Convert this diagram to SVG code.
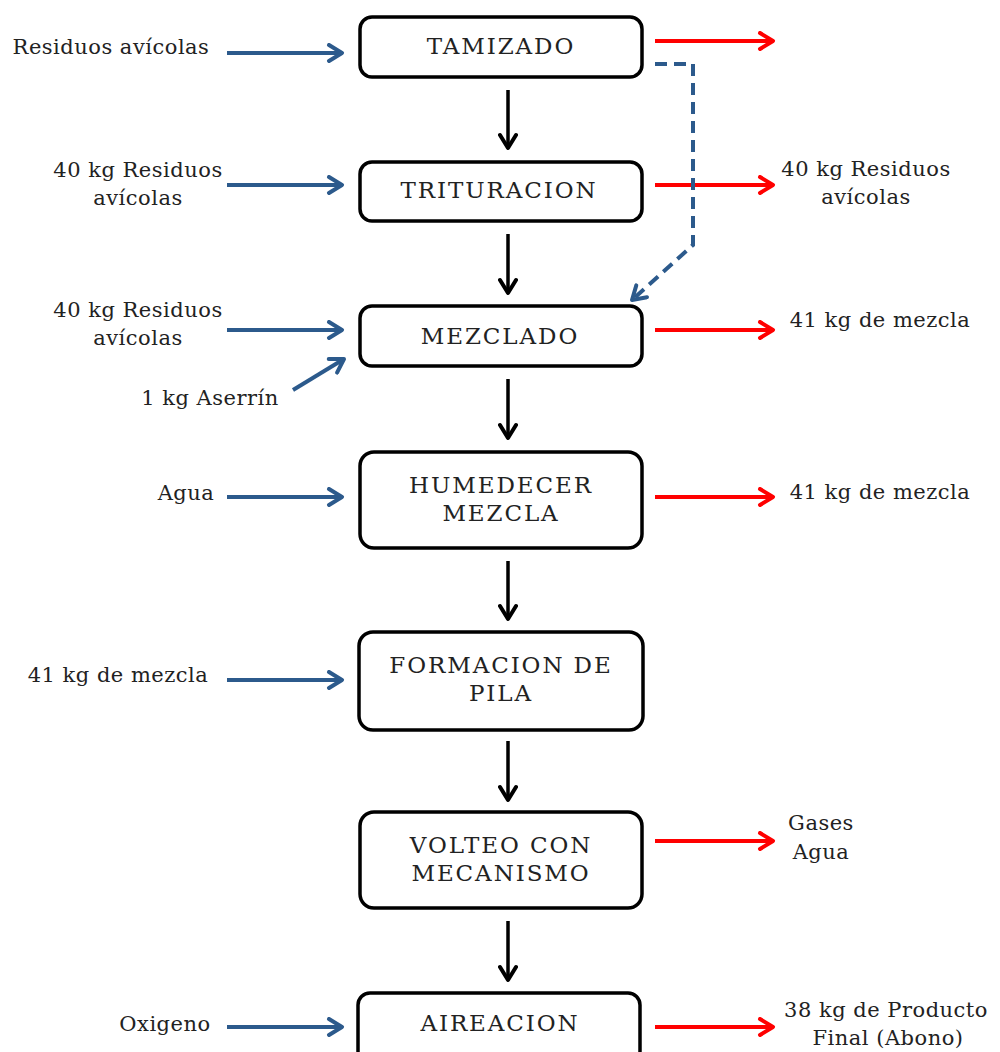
<svg xmlns="http://www.w3.org/2000/svg" width="1000" height="1052" viewBox="0 0 1000 1052">
<style>
.box{fill:#fff;stroke:#000;stroke-width:3.5}
.t{font-family:"DejaVu Serif","Liberation Serif",serif;font-size:21px;fill:#222;letter-spacing:0.5px;text-anchor:middle}
.b{font-family:"DejaVu Serif","Liberation Serif",serif;font-size:23px;fill:#222;letter-spacing:1.9px;text-anchor:middle}
.blue{stroke:#2c5a8c;stroke-width:4;fill:none}
.red{stroke:#ff0000;stroke-width:4;fill:none}
.blk{stroke:#000;stroke-width:3.5;fill:none}
.dash{stroke:#2c5a8c;stroke-width:4;fill:none;stroke-dasharray:12 7}
</style>
<defs>
<marker id="mb" viewBox="0 0 20 20" refX="17" refY="10" markerWidth="20" markerHeight="20" markerUnits="userSpaceOnUse" orient="auto"><path d="M4,2 L17,10 L4,18" fill="none" stroke="#2c5a8c" stroke-width="4" stroke-linecap="round" stroke-linejoin="round"/></marker>
<marker id="mr" viewBox="0 0 20 20" refX="17" refY="10" markerWidth="20" markerHeight="20" markerUnits="userSpaceOnUse" orient="auto"><path d="M4,2 L17,10 L4,18" fill="none" stroke="#ff0000" stroke-width="4" stroke-linecap="round" stroke-linejoin="round"/></marker>
<marker id="mk" viewBox="0 0 20 20" refX="17" refY="10" markerWidth="20" markerHeight="20" markerUnits="userSpaceOnUse" orient="auto"><path d="M4,2 L17,10 L4,18" fill="none" stroke="#000" stroke-width="4" stroke-linecap="round" stroke-linejoin="round"/></marker>
</defs>
<rect width="1000" height="1052" fill="#fff"/>
<g id="n1"><rect class="box" x="360" y="17" width="282" height="60" rx="12"/><text class="b" x="501" y="54">TAMIZADO</text></g>
<g id="n2"><rect class="box" x="360" y="162" width="282" height="59" rx="12"/><text class="b" x="499" y="198">TRITURACION</text></g>
<g id="n3"><rect class="box" x="360" y="306" width="282" height="60" rx="12"/><text class="b" x="500" y="344">MEZCLADO</text></g>
<g id="n4"><rect class="box" x="360" y="452" width="282" height="96" rx="14"/><text class="b" x="501" y="493">HUMEDECER</text><text class="b" x="501" y="521">MEZCLA</text></g>
<g id="n5"><rect class="box" x="359" y="632" width="284" height="98" rx="14"/><text class="b" x="501" y="673">FORMACION DE</text><text class="b" x="501" y="701">PILA</text></g>
<g id="n6"><rect class="box" x="360" y="812" width="282" height="96" rx="14"/><text class="b" x="501" y="853">VOLTEO CON</text><text class="b" x="501" y="881">MECANISMO</text></g>
<g id="n7"><rect class="box" x="358" y="993" width="282" height="70" rx="12"/><text class="b" x="500" y="1031">AIREACION</text></g>
<g id="labels">
<text class="t" x="111" y="54">Residuos avícolas</text>
<text class="t" x="138" y="177">40 kg Residuos</text><text class="t" x="138" y="205">avícolas</text>
<text class="t" x="138" y="317">40 kg Residuos</text><text class="t" x="138" y="345">avícolas</text>
<text class="t" x="210" y="405">1 kg Aserrín</text>
<text class="t" x="186" y="500">Agua</text>
<text class="t" x="118" y="682">41 kg de mezcla</text>
<text class="t" x="165" y="1031">Oxigeno</text>
<text class="t" x="866" y="176">40 kg Residuos</text><text class="t" x="866" y="204">avícolas</text>
<text class="t" x="880" y="327">41 kg de mezcla</text>
<text class="t" x="880" y="499">41 kg de mezcla</text>
<text class="t" x="821" y="830">Gases</text><text class="t" x="821" y="859">Agua</text>
<text class="t" x="886" y="1017">38 kg de Producto</text><text class="t" x="888" y="1045">Final (Abono)</text>
</g>
<g id="connectors">
<line class="blue" x1="227" y1="53" x2="342" y2="53" marker-end="url(#mb)"/>
<line class="blue" x1="227" y1="185" x2="342" y2="185" marker-end="url(#mb)"/>
<line class="blue" x1="227" y1="330" x2="342" y2="330" marker-end="url(#mb)"/>
<line class="blue" x1="293" y1="390" x2="344" y2="359" marker-end="url(#mb)"/>
<line class="blue" x1="227" y1="497" x2="342" y2="497" marker-end="url(#mb)"/>
<line class="blue" x1="227" y1="680" x2="342" y2="680" marker-end="url(#mb)"/>
<line class="blue" x1="227" y1="1027" x2="342" y2="1027" marker-end="url(#mb)"/>
<line class="red" x1="655" y1="41" x2="773" y2="41" marker-end="url(#mr)"/>
<line class="red" x1="655" y1="185" x2="773" y2="185" marker-end="url(#mr)"/>
<line class="red" x1="655" y1="330" x2="773" y2="330" marker-end="url(#mr)"/>
<line class="red" x1="655" y1="497" x2="773" y2="497" marker-end="url(#mr)"/>
<line class="red" x1="655" y1="841" x2="773" y2="841" marker-end="url(#mr)"/>
<line class="red" x1="655" y1="1027" x2="773" y2="1027" marker-end="url(#mr)"/>
<polyline class="dash" points="655,64 693,64 693,245 632,300" marker-end="url(#mb)"/>
<line class="blk" x1="508" y1="90" x2="508" y2="148" marker-end="url(#mk)"/>
<line class="blk" x1="508" y1="234" x2="508" y2="293" marker-end="url(#mk)"/>
<line class="blk" x1="508" y1="379" x2="508" y2="438" marker-end="url(#mk)"/>
<line class="blk" x1="508" y1="561" x2="508" y2="619" marker-end="url(#mk)"/>
<line class="blk" x1="508" y1="741" x2="508" y2="800" marker-end="url(#mk)"/>
<line class="blk" x1="508" y1="921" x2="508" y2="980" marker-end="url(#mk)"/>
</g>
</svg>
